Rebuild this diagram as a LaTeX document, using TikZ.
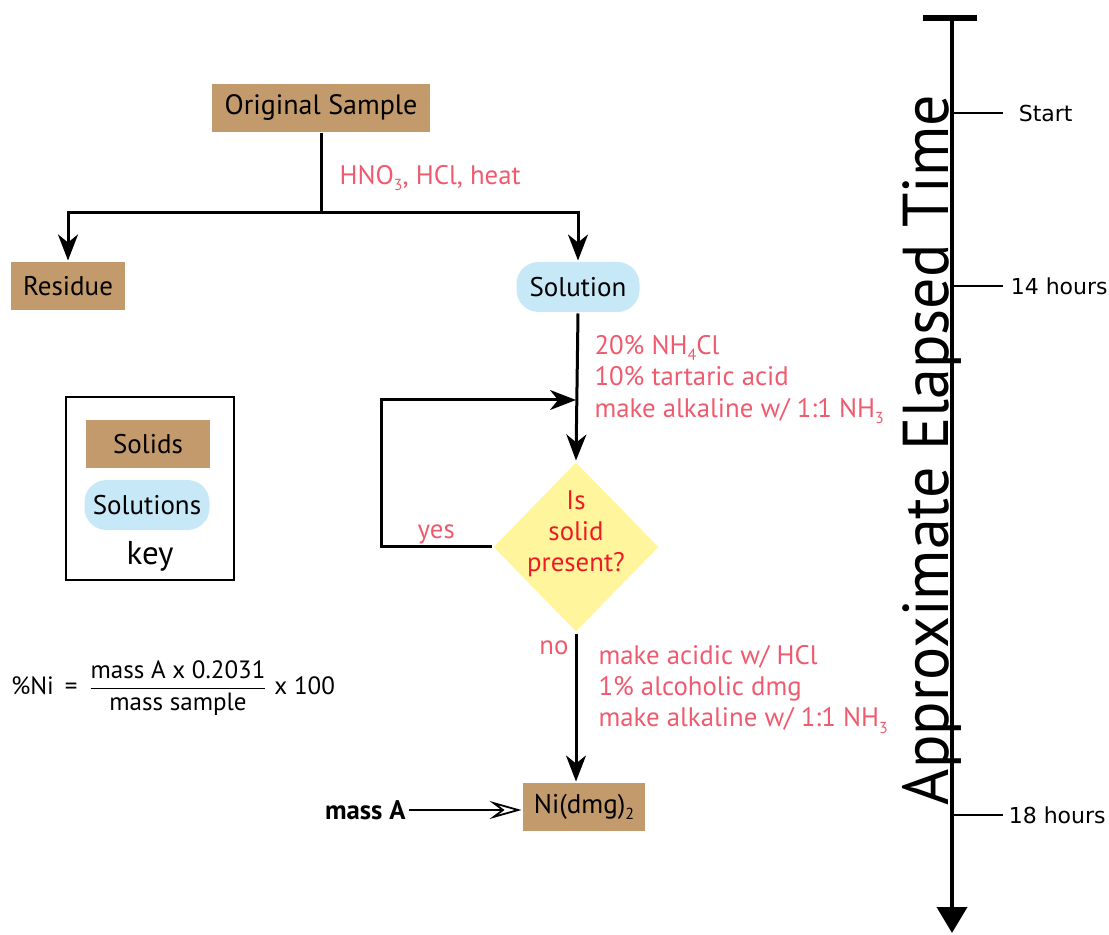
\documentclass[tikz,border=0pt]{standalone}
\usepackage{fontspec}
\usepackage{amsmath}
\setmainfont{PT Sans}
\newfontfamily\tickfont{DejaVu Sans}
\usetikzlibrary{shapes.geometric,arrows.meta}

\definecolor{solidbrown}{HTML}{C39A6B}
\definecolor{solnblue}{HTML}{C7E8F6}
\definecolor{reagentpink}{HTML}{EF5B6E}
\definecolor{askyellow}{HTML}{FFF59D}
\definecolor{askred}{HTML}{ED1C24}

\newcommand{\chemsub}[1]{\raisebox{-0.45ex}{\fontsize{8}{8}\selectfont #1}}

\tikzset{
  solidbox/.style={fill=solidbrown, minimum height=24pt, inner sep=0pt, font=\fontsize{13.5}{15}\selectfont},
  solnbox/.style={fill=solnblue, rounded corners=11pt, minimum height=25pt, inner sep=0pt, font=\fontsize{13.5}{15}\selectfont},
  decision/.style={diamond, fill=askyellow, minimum width=83pt, minimum height=85pt, inner sep=0pt},
  reagent/.style={text=reagentpink, align=left, inner sep=0pt, font=\fontsize{13.4}{15.6}\selectfont},
  ticklabel/.style={anchor=west, inner sep=0pt, font=\tickfont\fontsize{11}{12}\selectfont}
}

\begin{document}
\begin{tikzpicture}[x=0.5pt, y=-0.5pt, line width=1.5pt,
  >={Stealth[length=13pt, width=10pt, inset=4pt]}]
\useasboundingbox (0,0) rectangle (1109,935);

% flow chart
\node[solidbox, minimum width=109pt, font=\fontsize{14}{15}\selectfont] (orig) at (321,108) {Original Sample};
\node[solidbox, minimum width=57pt] (res) at (68,286) {Residue};
\node[solnbox, minimum width=61.5pt] (soln) at (578,287) {Solution};
\node[decision] (ask) at (576,547) {};
\node[align=center, text=askred, inner sep=0pt, font=\fontsize{13.4}{15.6}\selectfont] (asktxt) at (576,534) {Is\\solid\\present?};
\node[solidbox, minimum width=61pt] (ni) at (584,807) {Ni(dmg)\chemsub{2}};
\node[anchor=east, inner sep=1pt, font=\bfseries\fontsize{13.4}{15}\selectfont] (massA) at (409,810) {mass A};

\coordinate (split) at (321,213);
\coordinate (merge) at (576,400);
\coordinate (loop) at (381,547);

\draw (orig.south) -- (split);
\draw[->] (split) -| (res.north);
\draw[->] (split) -| (soln.north);
\draw[->] (soln.south) -- (ask.north);
\draw[->] (ask.west) -- (loop) node[midway, above, inner sep=1pt, text=reagentpink, font=\fontsize{13.4}{15}\selectfont]{yes} |- (merge);
\draw[->] (ask.south) -- (ask.south |- ni.north) node[pos=0, anchor=north east, inner sep=3pt, text=reagentpink, font=\fontsize{13.4}{15}\selectfont]{no};
\draw[line width=0.9pt, -{Stealth[open, length=16pt, width=9pt, inset=6pt]}] (massA.east) -- (massA.east -| ni.west);

% reagents
\node[reagent, anchor=west] (acid) at (338,178) {HNO\chemsub{3}, HCl, heat};
\node[reagent, anchor=north west] (ppt) at (593,334) {20\% NH\chemsub{4}Cl\\10\% tartaric acid\\make alkaline w/ 1:1 NH\chemsub{3}};
\node[reagent, anchor=north west] (dmg) at (597,644) {make acidic w/ HCl\\1\% alcoholic dmg\\make alkaline w/ 1:1 NH\chemsub{3}};

% key
\node[draw, line width=1.1pt, minimum width=84pt, minimum height=91.5pt] (keyframe) at (150,488.5) {};
\node[solidbox, minimum width=62pt] (keysolid) at (148,444) {Solids};
\node[solnbox, minimum width=62.5pt] (keysoln) at (147,505) {Solutions};
\node[inner sep=0pt, font=\fontsize{16.5}{18}\selectfont] (keylabel) at (150,556) {key};

% result
\node[inner sep=0pt, font=\fontsize{12.5}{14}\selectfont] (pctNi) at (173,688)
  {\%Ni \,=\, $\dfrac{\text{mass A x 0.2031}}{\text{mass sample}}$ x 100};

% time line
\coordinate (ttop) at (952,18);
\coordinate (tbot) at (952,933);
\draw[line width=1.9pt, -{Triangle[length=13pt, width=15pt]}] (ttop) -- (tbot);
\draw[line width=2.6pt] (923,18) -- (977,18);
\node[rotate=90, inner sep=0pt] (elapsed) at (932,450) {\resizebox*{355pt}{29.5pt}{Approximate Elapsed Time}};
\draw[line width=0.8pt] (952,113) -- (1003,113) node[ticklabel] (tstart) at (1018,113) {Start};
\draw[line width=0.8pt] (952,286) -- (1003,286) node[ticklabel] (t14) at (1010,286) {14 hours};
\draw[line width=0.8pt] (952,815) -- (1003,815) node[ticklabel] (t18) at (1008,815) {18 hours};

\end{tikzpicture}
\end{document}
